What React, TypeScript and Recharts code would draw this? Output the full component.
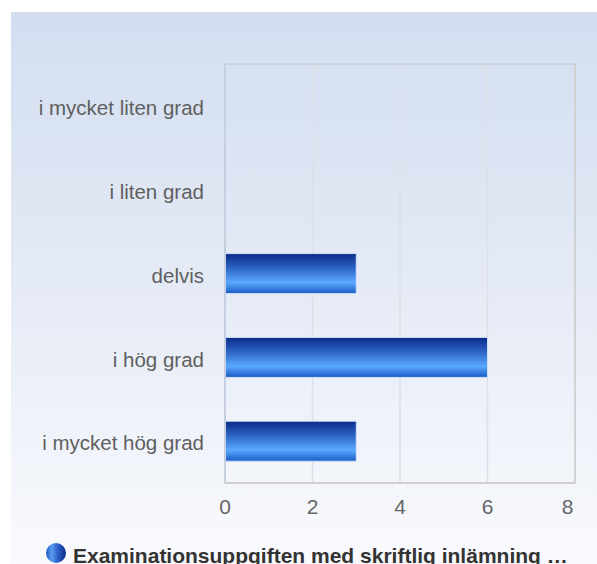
import React from 'react';
import { BarChart, Bar, XAxis, YAxis, CartesianGrid, ReferenceArea } from 'recharts';

const categories = ['i mycket liten grad', 'i liten grad', 'delvis', 'i hög grad', 'i mycket hög grad'];
const values = [0, 0, 3, 6, 3];
const xTicks = [0, 2, 4, 6, 8];
const seriesName = 'Examinationsuppgiften med skriftlig inlämning …';

const data = categories.map((c, i) => ({ name: c, value: values[i] }));

const FONT = '"Liberation Sans", Arial, Helvetica, sans-serif';

const XTick = (props: any) => {
  const { x, y, payload } = props;
  const isLast = payload.value === xTicks[xTicks.length - 1];
  return (
    <text
      x={isLast ? x - 1.5 : x}
      y={y}
      dy="0.71em"
      textAnchor={isLast ? 'end' : 'middle'}
      fill="#666"
      fontSize={21}
      fontFamily={FONT}
    >
      {payload.value}
    </text>
  );
};

const YTick = (props: any) => {
  const { x, y, payload } = props;
  return (
    <text x={x} y={y} dy="0.45em" textAnchor="end" fill="#5f5f5f" fontSize={20.5} fontFamily={FONT}>
      {payload.value}
    </text>
  );
};

export default function App() {
  return (
    <div style={{ position: 'absolute', left: 0, top: 0, width: 597, height: 564, overflow: 'hidden', background: '#fff' }}>
      <div
        style={{
          position: 'absolute',
          left: 11,
          top: 12,
          width: 586,
          height: 552,
          background: 'linear-gradient(to bottom, #d2def0 0%, #e3e9f5 45%, #f9fafd 100%)',
        }}
      >
        <BarChart
          width={586}
          height={552}
          layout="vertical"
          data={data}
          margin={{ top: 52, right: 22, bottom: 0, left: 0 }}
          barCategoryGap={0}
        >
          <defs>
            <linearGradient id="barGrad" x1="0" y1="0" x2="0" y2="1">
              <stop offset="0%" stopColor="#0a2a88" />
              <stop offset="35%" stopColor="#2c62c4" />
              <stop offset="72%" stopColor="#5aa8ff" />
              <stop offset="100%" stopColor="#1a5cc6" />
            </linearGradient>
          </defs>
          <CartesianGrid horizontal={false} stroke="#dde0e6" strokeWidth={1.5} />
          <ReferenceArea x1={0} x2={8} fill="none" stroke="#cccccc" strokeWidth={1.5} fillOpacity={0} />
          <XAxis
            type="number"
            domain={[0, 8]}
            ticks={xTicks}
            interval={0}
            height={81}
            tickSize={0}
            tickMargin={16}
            tickLine={false}
            axisLine={{ stroke: '#cccccc', strokeWidth: 1.5 }}
            tick={<XTick />}
          />
          <YAxis
            type="category"
            dataKey="name"
            width={214}
            tickSize={0}
            tickMargin={21}
            tickLine={false}
            axisLine={{ stroke: '#c6cfdf', strokeWidth: 2 }}
            tick={<YTick />}
            interval={0}
          />
          <Bar
            dataKey="value"
            barSize={40}
            fill="url(#barGrad)"
            stroke="#cfe0fb"
            strokeWidth={1}
            isAnimationActive={false}
          />
        </BarChart>
      </div>
      <div
        style={{
          position: 'absolute',
          left: 46,
          top: 543,
          width: 20,
          height: 20,
          borderRadius: '50%',
          background: 'linear-gradient(to right, #1d52bd 0%, #5c9cf0 28%, #2a5fc8 60%, #0a2a86 100%)',
        }}
      />
      <div
        style={{
          position: 'absolute',
          left: 73,
          top: 545,
          lineHeight: '21px',
          fontFamily: FONT,
          fontWeight: 'bold',
          fontSize: 21,
          color: '#333',
          whiteSpace: 'nowrap',
        }}
      >
        {seriesName}
      </div>
    </div>
  );
}
